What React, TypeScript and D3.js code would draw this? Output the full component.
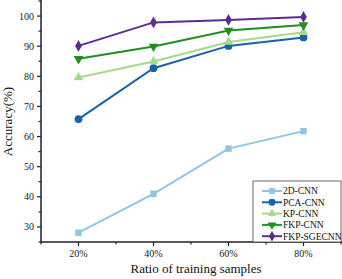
import React from "react";
import * as d3 from "d3";

const categories = [20, 40, 60, 80];
const tickLabels = ["20%", "40%", "60%", "80%"];
const seriesNames = ["2D-CNN", "PCA-CNN", "KP-CNN", "FKP-CNN", "FKP-SGECNN"];
const cnn2d = [28.1, 41.0, 56.0, 61.8];
const pcaCnn = [65.8, 82.7, 90.1, 92.9];
const kpCnn = [79.6, 84.9, 91.4, 94.6];
const fkpCnn = [85.8, 89.9, 95.2, 97.0];
const fkpSgecnn = [90.1, 97.9, 98.7, 99.7];
const yTicks = [30, 40, 50, 60, 70, 80, 90, 100];

const seriesValues = [cnn2d, pcaCnn, kpCnn, fkpCnn, fkpSgecnn];
const colors = ["#8fc6e3", "#1764ad", "#a6d98b", "#1f8f1f", "#5b2c92"];
const symbols = [d3.symbolSquare, d3.symbolCircle, d3.symbolTriangle, d3.symbolTriangle, d3.symbolDiamond];
const rotations = [0, 0, 0, 180, 0];
const symSizes = [42, 48, 40, 40, 40];

export default function App() {
  const W = 342, H = 279;
  const left = 41, bottom = 242, top = 1, right = 341;
  const x = d3.scaleLinear().domain([10, 90]).range([left, right]);
  const y = d3.scaleLinear().domain([25, 105]).range([bottom, top]);
  const line = d3.line<number>().x((_, i) => x(categories[i])).y((d) => y(d));
  const font = "'Liberation Serif', 'Times New Roman', serif";
  const minorY = d3.range(25, 105.1, 5).filter((v) => v % 10 !== 0);
  const minorX = [10, 30, 50, 70, 90];
  const legX = 253, legY = 181;
  return (
    <svg width={W} height={H} style={{ position: "absolute", left: 0, top: 0, background: "#fff" }}>
      {seriesValues.map((vals, s) => (
        <g key={s}>
          <path d={line(vals) || ""} fill="none" stroke={colors[s]} strokeWidth={2} />
          {vals.map((v, i) => (
            <path
              key={i}
              d={d3.symbol(symbols[s], symSizes[s])() || ""}
              transform={`translate(${x(categories[i])},${y(v)}) rotate(${rotations[s]})`}
              fill={colors[s]}
            />
          ))}
        </g>
      ))}
      {/* axes */}
      <line x1={left} x2={left} y1={0} y2={bottom} stroke="#222" strokeWidth={1.5} />
      <line x1={left} x2={W} y1={bottom} y2={bottom} stroke="#222" strokeWidth={1.5} />
      {yTicks.map((t) => (
        <g key={t}>
          <line x1={left - 4} x2={left} y1={y(t)} y2={y(t)} stroke="#222" strokeWidth={1.2} />
          <text x={left - 7} y={y(t)} dy="0.35em" textAnchor="end" fontSize={10} fontFamily={font} fill="#222">
            {t}
          </text>
        </g>
      ))}
      {minorY.map((t) => (
        <line key={t} x1={left - 2.5} x2={left} y1={y(t)} y2={y(t)} stroke="#222" strokeWidth={1.2} />
      ))}
      {categories.map((c, i) => (
        <g key={c}>
          <line x1={x(c)} x2={x(c)} y1={bottom} y2={bottom + 4} stroke="#222" strokeWidth={1.2} />
          <text x={x(c)} y={bottom + 15} textAnchor="middle" fontSize={10} fontFamily={font} fill="#222">
            {tickLabels[i]}
          </text>
        </g>
      ))}
      {minorX.map((c) => (
        <line key={c} x1={x(c)} x2={x(c)} y1={bottom} y2={bottom + 2.5} stroke="#222" strokeWidth={1.2} />
      ))}
      <text
        transform={`translate(12,${(top + bottom) / 2}) rotate(-90)`}
        textAnchor="middle"
        fontSize={13}
        fontFamily={font}
        fill="#111"
      >
        Accuracy(%)
      </text>
      <text x={196} y={273} textAnchor="middle" fontSize={13} fontFamily={font} fill="#111">
        Ratio of training samples
      </text>
      {/* legend */}
      <rect x={legX} y={legY} width={W - legX - 1} height={bottom - legY} fill="#fff" stroke="#444" strokeWidth={0.8} />
      {seriesNames.map((n, s) => {
        const ly = legY + 10 + s * 11.3;
        return (
          <g key={n}>
            <line x1={legX + 9} x2={legX + 29} y1={ly} y2={ly} stroke={colors[s]} strokeWidth={2} />
            <path
              d={d3.symbol(symbols[s], symSizes[s] * 0.8)() || ""}
              transform={`translate(${legX + 19},${ly}) rotate(${rotations[s]})`}
              fill={colors[s]}
            />
            <text x={legX + 30} y={ly} dy="0.35em" fontSize={9.5} fontFamily={font} fill="#111">
              {n}
            </text>
          </g>
        );
      })}
    </svg>
  );
}
